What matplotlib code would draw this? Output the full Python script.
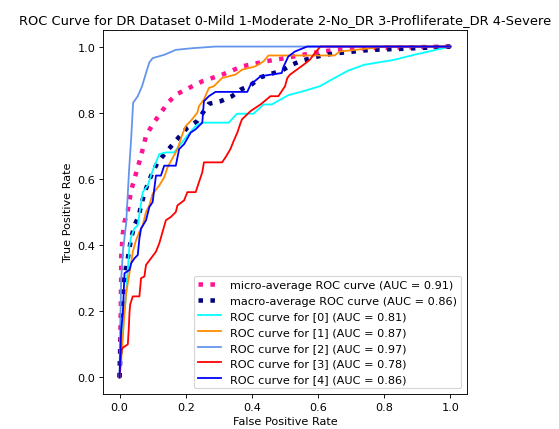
import matplotlib
matplotlib.use("Agg")
import matplotlib.pyplot as plt

title = "ROC Curve for DR Dataset 0-Mild 1-Moderate 2-No_DR 3-Profliferate_DR 4-Severe"

fpr_micro = [0, 0.003, 0.005, 0.005, 0.010, 0.015, 0.025, 0.035, 0.045, 0.055, 0.065, 0.080, 0.100, 0.125,
             0.146, 0.171, 0.210, 0.250, 0.310, 0.370, 0.440, 0.500, 0.580, 0.650, 0.750, 1.0]
tpr_micro = [0, 0.15, 0.30, 0.365, 0.435, 0.47, 0.505, 0.565, 0.60, 0.635, 0.67, 0.73, 0.765, 0.80,
             0.83, 0.855, 0.875, 0.895, 0.915, 0.94, 0.955, 0.965, 0.98, 0.99, 0.995, 1.0]
auc_micro = 0.91

fpr_macro = [0, 0.005, 0.015, 0.025, 0.03, 0.035, 0.045, 0.058, 0.065, 0.075, 0.085, 0.10, 0.115, 0.14,
             0.18, 0.205, 0.235, 0.255, 0.27, 0.306, 0.34, 0.366, 0.396, 0.426, 0.456, 0.49, 0.52, 0.55,
             0.587, 0.62, 0.657, 0.69, 0.727, 0.76, 0.85, 1.0]
tpr_macro = [0, 0.15, 0.30, 0.36, 0.39, 0.42, 0.46, 0.487, 0.52, 0.555, 0.585, 0.62, 0.65, 0.68,
             0.727, 0.755, 0.775, 0.805, 0.827, 0.835, 0.85, 0.87, 0.883, 0.907, 0.917, 0.927, 0.945, 0.957,
             0.967, 0.975, 0.98, 0.983, 0.987, 0.99, 0.993, 1.0]
auc_macro = 0.86

fpr0 = [0, 0.005, 0.015, 0.02, 0.03, 0.035, 0.045, 0.055, 0.07, 0.085, 0.10, 0.12, 0.14, 0.165, 0.20,
        0.23, 0.25, 0.33, 0.355, 0.405, 0.435, 0.46, 0.51, 0.555, 0.605, 0.65, 0.69, 0.74, 0.83, 0.89, 1.0]
tpr0 = [0, 0.1, 0.2, 0.255, 0.40, 0.425, 0.45, 0.46, 0.56, 0.58, 0.625, 0.675, 0.68, 0.68, 0.725,
        0.76, 0.77, 0.77, 0.797, 0.797, 0.825, 0.825, 0.853, 0.865, 0.88, 0.905, 0.927, 0.945, 0.96, 0.975, 1.0]

fpr1 = [0, 0.005, 0.015, 0.02, 0.03, 0.035, 0.04, 0.05, 0.06, 0.07, 0.08, 0.09, 0.10, 0.12, 0.135,
        0.145, 0.175, 0.18, 0.19, 0.20, 0.215, 0.235, 0.24, 0.255, 0.27, 0.285, 0.31, 0.33, 0.35, 0.37,
        0.41, 0.435, 0.45, 0.65, 0.665, 0.76, 0.80, 1.0]
tpr1 = [0, 0.05, 0.195, 0.255, 0.315, 0.345, 0.38, 0.415, 0.44, 0.46, 0.50, 0.52, 0.555, 0.58, 0.605,
        0.635, 0.69, 0.705, 0.735, 0.76, 0.775, 0.80, 0.82, 0.84, 0.875, 0.88, 0.905, 0.91, 0.915, 0.93,
        0.94, 0.955, 0.973, 0.973, 0.985, 0.995, 1.0, 1.0]

fpr2 = [0, 0.002, 0.005, 0.011, 0.020, 0.029, 0.035, 0.041, 0.055, 0.068, 0.080, 0.090, 0.100, 0.135,
        0.170, 0.220, 0.290, 1.0]
tpr2 = [0, 0.15, 0.30, 0.39, 0.465, 0.63, 0.72, 0.83, 0.85, 0.88, 0.92, 0.952, 0.965, 0.975,
        0.99, 0.995, 1.0, 1.0]

fpr3 = [0, 0.005, 0.01, 0.025, 0.028, 0.03, 0.032, 0.04, 0.06, 0.065, 0.075, 0.08, 0.095, 0.11, 0.12,
        0.13, 0.14, 0.155, 0.17, 0.175, 0.195, 0.205, 0.23, 0.24, 0.25, 0.255, 0.31, 0.32, 0.335, 0.345,
        0.356, 0.366, 0.37, 0.396, 0.426, 0.456, 0.48, 0.50, 0.507, 0.515, 0.556, 0.575, 0.59, 0.607, 1.0]
tpr3 = [0, 0.08, 0.09, 0.10, 0.15, 0.195, 0.22, 0.245, 0.245, 0.30, 0.305, 0.34, 0.36, 0.38, 0.405,
        0.44, 0.475, 0.485, 0.50, 0.52, 0.535, 0.56, 0.56, 0.59, 0.62, 0.65, 0.65, 0.665, 0.69, 0.715,
        0.74, 0.77, 0.78, 0.805, 0.825, 0.85, 0.85, 0.88, 0.905, 0.915, 0.945, 0.96, 0.98, 1.0, 1.0]

fpr4 = [0, 0.005, 0.01, 0.015, 0.03, 0.035, 0.045, 0.055, 0.06, 0.065, 0.08, 0.09, 0.10, 0.11, 0.125,
        0.135, 0.17, 0.18, 0.195, 0.215, 0.23, 0.25, 0.255, 0.27, 0.29, 0.386, 0.396, 0.426, 0.456, 0.49,
        0.496, 0.51, 0.53, 0.567, 1.0]
tpr4 = [0, 0.145, 0.195, 0.315, 0.325, 0.345, 0.36, 0.37, 0.42, 0.45, 0.475, 0.515, 0.53, 0.61, 0.61,
        0.64, 0.64, 0.69, 0.705, 0.74, 0.75, 0.77, 0.835, 0.85, 0.863, 0.863, 0.885, 0.91, 0.915, 0.92,
        0.94, 0.97, 0.985, 1.0, 1.0]

class_names = ["0", "1", "2", "3", "4"]
class_auc = [0.81, 0.87, 0.97, 0.78, 0.86]
class_fpr = [fpr0, fpr1, fpr2, fpr3, fpr4]
class_tpr = [tpr0, tpr1, tpr2, tpr3, tpr4]
colors = ["aqua", "darkorange", "cornflowerblue", "red", "blue"]

DPI = 81
fig = plt.figure(figsize=(559 / DPI, 430 / DPI), dpi=DPI)
ax = fig.add_axes([103 / 559, 35 / 430, 364 / 559, 364 / 430])

ax.plot(fpr_micro, tpr_micro, color="deeppink", linestyle=":", linewidth=4,
        label="micro-average ROC curve (AUC = {:.2f})".format(auc_micro))
ax.plot(fpr_macro, tpr_macro, color="navy", linestyle=":", linewidth=4,
        label="macro-average ROC curve (AUC = {:.2f})".format(auc_macro))
for name, f, t, a, c in zip(class_names, class_fpr, class_tpr, class_auc, colors):
    ax.plot(f, t, color=c, lw=1.6, label="ROC curve for [{}] (AUC = {:.2f})".format(name, a))

ax.set_xlabel("False Positive Rate")
ax.set_ylabel("True Positive Rate")
ax.set_title(title, fontsize=11.6)
ax.legend(loc="lower right")

fig.savefig("out.png", dpi=DPI)
